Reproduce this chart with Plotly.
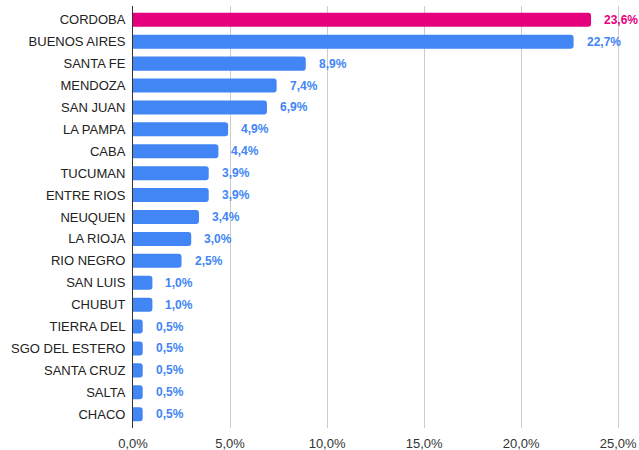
import plotly.graph_objects as go

categories = ["CORDOBA", "BUENOS AIRES", "SANTA FE", "MENDOZA", "SAN JUAN", "LA PAMPA",
              "CABA", "TUCUMAN", "ENTRE RIOS", "NEUQUEN", "LA RIOJA", "RIO NEGRO",
              "SAN LUIS", "CHUBUT", "TIERRA DEL", "SGO DEL ESTERO", "SANTA CRUZ",
              "SALTA", "CHACO"]
values = [23.6, 22.7, 8.9, 7.4, 6.9, 4.9, 4.4, 3.9, 3.9, 3.4, 3.0, 2.5,
          1.0, 1.0, 0.5, 0.5, 0.5, 0.5, 0.5]
labels = ["23,6%", "22,7%", "8,9%", "7,4%", "6,9%", "4,9%", "4,4%", "3,9%", "3,9%",
          "3,4%", "3,0%", "2,5%", "1,0%", "1,0%", "0,5%", "0,5%", "0,5%", "0,5%", "0,5%"]

PINK = "#E5007D"
BLUE = "#4285F4"
colors = [PINK] + [BLUE] * (len(categories) - 1)

fig = go.Figure()
fig.add_trace(go.Bar(
    x=values, y=categories, orientation="h",
    marker=dict(color=colors, line=dict(width=0), cornerradius=3),
    hoverinfo="skip",
))

for c, v, t, col in zip(categories, values, labels, colors):
    fig.add_annotation(x=v, y=c, text="<b>%s</b>" % t, showarrow=False,
                       xanchor="left", xshift=11, yshift=0,
                       font=dict(family="Liberation Sans, Arial, sans-serif", size=12, color=col))

fig.update_layout(
    width=639, height=450,
    margin=dict(l=133, r=13, t=6, b=22),
    paper_bgcolor="white", plot_bgcolor="white",
    bargap=0.36,
    showlegend=False,
    separators=", ",
    font=dict(family="Liberation Sans, Arial, sans-serif", size=13, color="#222"),
)
fig.update_xaxes(
    range=[0, 25.4], dtick=5, tick0=0, tickformat=".1f", ticksuffix="%",
    showgrid=True, gridcolor="#CCCCCC", gridwidth=1, zeroline=False,
    showline=False, ticks="outside", ticklen=3, tickcolor="rgba(0,0,0,0)",
    tickfont=dict(size=13, color="#333"), automargin=False,
)
fig.update_yaxes(
    range=[18.63, -0.63], showgrid=False, zeroline=False,
    showline=True, linecolor="#333333", linewidth=1,
    ticks="outside", ticklen=4, tickcolor="rgba(0,0,0,0)",
    tickfont=dict(size=13, color="#222"), automargin=False,
)

fig.write_html("out.html", config={"displayModeBar": False},
               post_script="document.body.style.margin='0px';")
